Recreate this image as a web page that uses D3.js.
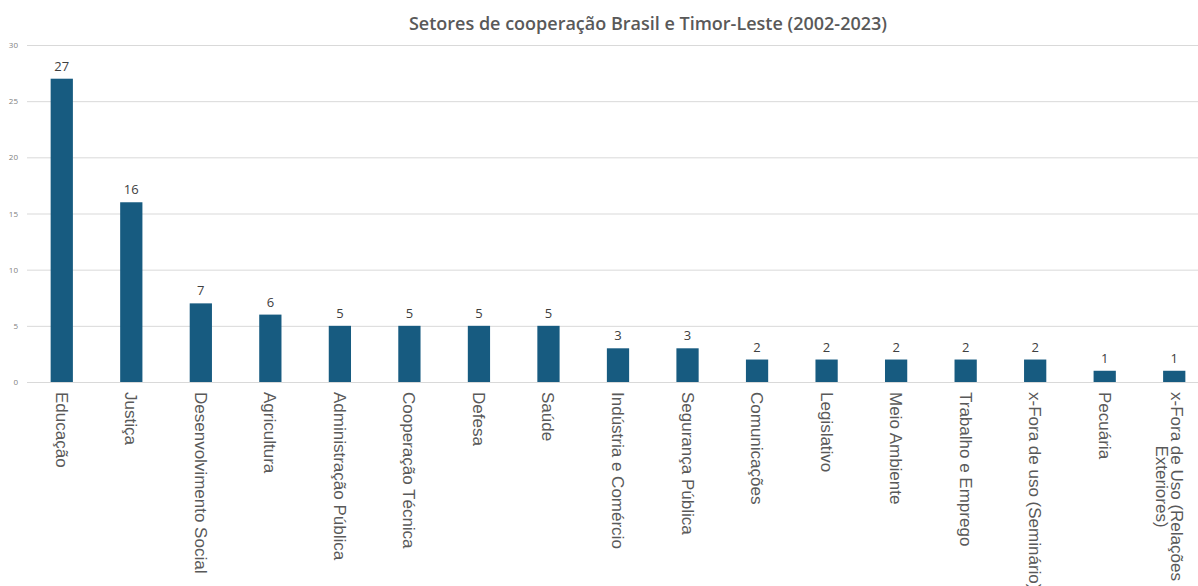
<!DOCTYPE html>
<html>
<head>
<meta charset="utf-8">
<script src="https://cdn.jsdelivr.net/npm/d3@7"></script>
<style>
  body { margin: 0; background: #fff; }
  svg { display: block; }
</style>
</head>
<body>
<script>
"use strict";

// categories and counts
var sectors = ["Educação", "Justiça", "Desenvolvimento Social", "Agricultura",
  "Administração Pública", "Cooperação Técnica", "Defesa", "Saúde",
  "Indústria e Comércio", "Segurança Pública", "Comunicações", "Legislativo",
  "Meio Ambiente", "Trabalho e Emprego", "x-Fora de uso (Seminário)",
  "Pecuária", "x-Fora de Uso (Relações Exteriores)"];
var counts = [27, 16, 7, 6, 5, 5, 5, 5, 3, 3, 2, 2, 2, 2, 2, 1, 1];
var yTicks = [0, 5, 10, 15, 20, 25, 30];
// labels that wrap on two lines
var wrapped = {"x-Fora de Uso (Relações Exteriores)": ["x-Fora de Uso (Relações", "Exteriores)"]};

var W = 1198, H = 586;
var margin = {top: 45, right: 0, bottom: 204, left: 27};

var svg = d3.select("body").append("svg")
    .attr("width", W)
    .attr("height", H);

var x = d3.scaleBand()
    .domain(sectors)
    .range([margin.left, 1209])
    .paddingInner(0.68)
    .paddingOuter(0.34);

var y = d3.scaleLinear()
    .domain([0, 30])
    .range([H - margin.bottom, margin.top]);

// title
svg.append("text")
    .attr("x", 648)
    .attr("y", 30)
    .attr("text-anchor", "middle")
    .style("font-family", "'Open Sans', sans-serif")
    .style("font-weight", 600)
    .style("font-size", "18px")
    .style("fill", "#595959")
    .text("Setores de cooperação Brasil e Timor-Leste (2002-2023)");

// gridlines + y labels
var yAxis = d3.axisLeft(y)
    .tickValues(yTicks)
    .tickSize(-(W - margin.left))
    .tickPadding(8);

var gY = svg.append("g")
    .attr("transform", "translate(" + margin.left + ",0)")
    .call(yAxis);
gY.select(".domain").remove();
gY.selectAll(".tick line").attr("stroke", "#d9d9d9");
gY.selectAll(".tick text")
    .attr("x", -9)
    .style("font-family", "'Open Sans', sans-serif")
    .style("font-size", "8px")
    .style("fill", "#7f7f7f");

// bars
svg.selectAll(".bar").data(counts)
  .enter().append("rect")
    .attr("class", "bar")
    .attr("x", function(d, i){ return x(sectors[i]); })
    .attr("y", function(d){ return y(d); })
    .attr("width", x.bandwidth())
    .attr("height", function(d){ return y(0) - y(d); })
    .attr("fill", "#175b80");

// value labels
svg.selectAll(".val").data(counts)
  .enter().append("text")
    .attr("class", "val")
    .attr("x", function(d, i){ return x(sectors[i]) + x.bandwidth() / 2; })
    .attr("y", function(d){ return y(d) - 8; })
    .attr("text-anchor", "middle")
    .style("font-family", "'Open Sans', sans-serif")
    .style("font-size", "13px")
    .style("fill", "#404040")
    .text(function(d){ return d; });

// category labels, rotated to read downward
var cat = svg.selectAll(".cat").data(sectors)
  .enter().append("text")
    .attr("class", "cat")
    .attr("transform", function(d){
      return "translate(" + (x(d) + x.bandwidth() / 2 - 6) + "," + (y(0) + 10) + ") rotate(90)";
    })
    .style("font-family", "'Liberation Sans', Arial, sans-serif")
    .style("font-size", "17px")
    .style("fill", "#595959");

cat.each(function(d){
  var t = d3.select(this);
  var lines = wrapped[d];
  if (!lines) {
    t.text(d);
    return;
  }
  var first = t.append("tspan").attr("x", 0).attr("y", -3).text(lines[0]);
  var second = t.append("tspan").attr("y", 12).text(lines[1]);
  var l1 = first.node().getComputedTextLength();
  var l2 = second.node().getComputedTextLength();
  second.attr("x", (l1 - l2) / 2);
});
</script>
</body>
</html>
